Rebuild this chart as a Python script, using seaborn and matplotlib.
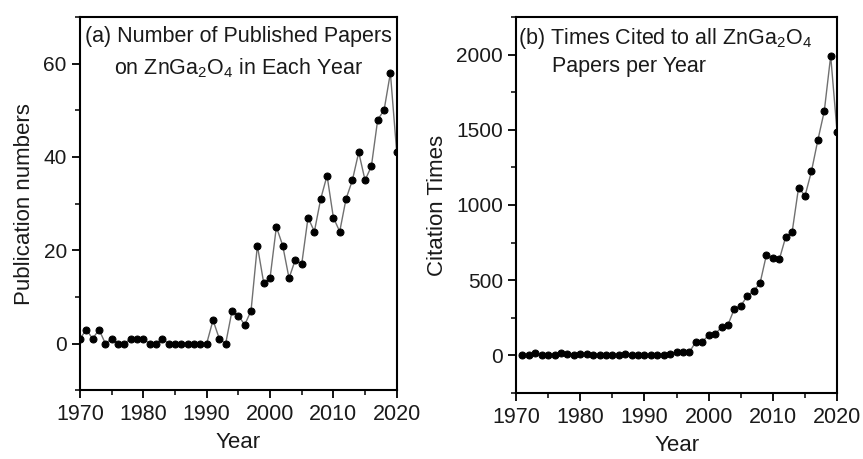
import matplotlib
matplotlib.use("Agg")
import matplotlib.pyplot as plt
from matplotlib.ticker import MultipleLocator
import seaborn as sns
import pandas as pd

years_a = list(range(1970, 2021))
papers = [1, 3, 1, 3, 0, 1, 0, 0, 1, 1,
          1, 0, 0, 1, 0, 0, 0, 0, 0, 0,
          0, 5, 1, 0, 7, 6, 4, 7, 21, 13,
          14, 25, 21, 14, 18, 17, 27, 24, 31, 36,
          27, 24, 31, 35, 41, 35, 38, 48, 50, 58,
          41]

years_b = list(range(1971, 2021))
citations = [0, 0, 15, 2, 2, 2, 15, 8, 5, 10,
             10, 5, 3, 3, 3, 5, 8, 3, 3, 2,
             3, 5, 2, 10, 22, 22, 22, 90, 90, 134,
             143, 185, 203, 310, 330, 393, 429, 480, 670, 645,
             638, 788, 821, 1116, 1060, 1223, 1431, 1623, 1991, 1482]

xticks = [1970, 1980, 1990, 2000, 2010, 2020]

sns.set_theme(style="ticks")
plt.rcParams['font.family'] = ['Liberation Sans', 'DejaVu Sans']
plt.rcParams['mathtext.fontset'] = 'custom'
plt.rcParams['mathtext.rm'] = 'Liberation Sans'

fig = plt.figure(figsize=(8.63, 4.59), dpi=100)
ax1 = fig.add_axes([0.0927, 0.150, 0.367, 0.813])
ax2 = fig.add_axes([0.598, 0.144, 0.372, 0.819])

dfa = pd.DataFrame({"Year": years_a, "v": papers})
dfb = pd.DataFrame({"Year": years_b, "v": citations})

txt = "#1a1a1a"
for ax, df in [(ax1, dfa), (ax2, dfb)]:
    sns.lineplot(data=df, x="Year", y="v", ax=ax, color="#707070", lw=1.0,
                 marker="o", markersize=5, markerfacecolor="black",
                 markeredgecolor="black", clip_on=True)
    ax.set_xlim(1970, 2020)
    ax.set_xticks(xticks)
    ax.xaxis.set_minor_locator(MultipleLocator(5))
    for s in ax.spines.values():
        s.set_visible(True)
        s.set_linewidth(1.5)
        s.set_color("black")
    ax.tick_params(axis="both", which="major", direction="out", length=6, width=1.3,
                   labelsize=15, colors="black", labelcolor=txt, top=False, right=False)
    ax.tick_params(axis="both", which="minor", direction="out", length=3.5, width=1.3,
                   top=False, right=False)
    ax.tick_params(axis="x", which="major", labelsize=15.5, pad=4)
    ax.set_xlabel("Year", fontsize=16, labelpad=5, color=txt)

ax1.set_ylim(-10, 70)
ax1.set_yticks([0, 20, 40, 60])
ax1.yaxis.set_minor_locator(MultipleLocator(10))
ax1.set_ylabel("Publication numbers", fontsize=16, labelpad=6, color=txt)

ax2.set_ylim(-250, 2250)
ax2.set_yticks([0, 500, 1000, 1500, 2000])
ax2.yaxis.set_minor_locator(MultipleLocator(250))
ax2.set_ylabel("Citation Times", fontsize=16, labelpad=6, color=txt)

ax1.text(0.5, 0.975, "(a) Number of Published Papers", transform=ax1.transAxes,
         ha="center", va="top", fontsize=15.5, color=txt)
ax1.text(0.5, 0.895, r"on ZnGa$_2$O$_4$ in Each Year", transform=ax1.transAxes,
         ha="center", va="top", fontsize=15.5, color=txt)
ax2.text(0.005, 0.975, r"(b) Times Cited to all ZnGa$_2$O$_4$", transform=ax2.transAxes,
         ha="left", va="top", fontsize=15.5, color=txt)
ax2.text(0.113, 0.895, "Papers per Year", transform=ax2.transAxes,
         ha="left", va="top", fontsize=15.5, color=txt)

fig.savefig("out.png", dpi=100)
